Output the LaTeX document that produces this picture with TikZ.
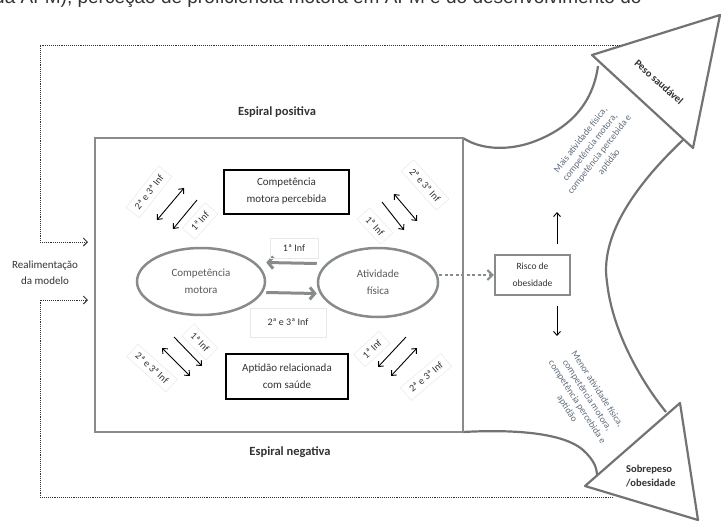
\documentclass[tikz,border=0pt]{standalone}
\usepackage{fontspec}
\setmainfont{Carlito}
\newfontfamily\topfont{Liberation Sans}
\usetikzlibrary{arrows.meta,calc,shapes.geometric}
\definecolor{gline}{RGB}{135,140,138}
\definecolor{bluegrey}{RGB}{95,108,122}
\definecolor{txt}{RGB}{50,50,50}
\begin{document}
\begin{tikzpicture}[x=1pt,y=-1pt,
  frame/.style={draw=gline, line width=2.6pt},
  blackbox/.style={draw=black, line width=2pt, minimum width=125pt, minimum height=44pt, align=center, text=txt, font=\fontsize{11}{17}\selectfont},
  ell/.style={ellipse, draw=gline, line width=2.5pt, align=center, text=black!65, font=\fontsize{11}{17}\selectfont, inner sep=0pt},
  garrow/.style={draw=gline, line width=3pt, -{Straight Barb[length=5pt,width=12pt]}},
  barrow/.style={draw=black, line width=0.9pt, -{Straight Barb[length=4pt,width=7pt]}},
  bbarrow/.style={draw=black, line width=0.9pt, {Straight Barb[length=4pt,width=7pt]}-{Straight Barb[length=4pt,width=7pt]}},
  fbhead/.style={draw=black!80, line width=0.9pt, densely dotted, -{Straight Barb[length=4pt,width=8pt,line width=1pt,sep=0pt]}},
  lab/.style={draw=black!9, line width=0.5pt, text=txt, font=\fontsize{10}{12}\selectfont, inner xsep=6pt, inner ysep=5pt},
  biglab/.style={text=txt, font=\bfseries\fontsize{12.5}{15}\selectfont},
  shapeline/.style={draw=black!55, line width=2.2pt, line join=round},
  bandtext/.style={align=center, text=bluegrey, font=\fontsize{9.5}{12}\selectfont}
]
\useasboundingbox (0,0) rectangle (721,520);

% cut-off text line at the top
\node[anchor=base west, inner sep=0pt, text=black!80, font=\topfont\fontsize{19}{20}\selectfont] (toptext) at (-6,3) {da AFM), perceção de proficiência motora em AFM e do desenvolvimento do};

% big right-hand arrows
\coordinate (ua1) at (592,55);
\coordinate (utip) at (720,15);
\coordinate (ua2) at (693,148);
\coordinate (la1) at (680,403);
\coordinate (ltip) at (698,520);
\coordinate (la2) at (585,486);
\coordinate (rtc) at (463,138);
\coordinate (rbc) at (463,432);
\draw[shapeline] (rtc) .. controls (480,149) and (505,151) .. (530,143)
   .. controls (562,132) and (592,110) .. (598,66);
\draw[shapeline, fill=white] (ua1) -- (utip) -- (ua2) -- cycle;
\draw[shapeline] (684,139) .. controls (632,188) and (600,238) .. (607,282)
   .. controls (612,330) and (640,380) .. (666,412);
\draw[shapeline] (rbc) .. controls (500,430) and (560,430) .. (583,450)
   .. controls (594,460) and (597,468) .. (597,476);
\draw[shapeline, fill=white] (la1) -- (ltip) -- (la2) -- cycle;

\node[rotate=-42, text=txt, font=\bfseries\fontsize{10.5}{12}\selectfont] (peso) at (659,82) {Peso saudável};
\node[align=left, anchor=north west, inner sep=0pt, text=txt, font=\bfseries\fontsize{10.5}{14}\selectfont] (sobre) at (626,465) {Sobrepeso\\/obesidade};
\node[bandtext, rotate=52] (mais) at (595,151) {Mais atividade física,\\competência motora,\\competência percebida e\\aptidão};
\node[bandtext, rotate=-57] (menor) at (582,399) {Menor atividade física,\\competência motora,\\competência percebida e\\aptidão};

% inner frame
\node[frame, minimum width=368pt, minimum height=294pt, inner sep=0pt] (model) at (279,285) {};
\node[biglab] (pos) at (277,112) {Espiral positiva};
\node[biglab] (neg) at (290,452) {Espiral negativa};

% black boxes
\node[blackbox] (cmp) at (286.5,191.5) {Competência\\motora percebida};
\node[blackbox, minimum width=122pt, minimum height=45pt] (apt) at (287,376.5) {Aptidão relacionada\\com saúde};

% ellipses
\node[ell, minimum width=128pt, minimum height=67pt] (cm) at (201,281.5) {Competência\\motora};
\node[ell, minimum width=120pt, minimum height=69pt] (af) at (378,282.5) {Atividade\\física};

% arrows between ellipses
\draw[garrow] ([yshift=19pt]af.west) -- ([yshift=19pt]cm.east);
\draw[garrow] ([yshift=-11pt]cm.east) -- ([yshift=-11pt]af.west);
\node[lab, minimum width=48pt, minimum height=20pt] (l1) at (294,248) {1ª Inf};
\node[lab, minimum width=76pt, minimum height=29pt] (l23) at (288,322.5) {2ª e 3ª Inf};

% risk box
\node[draw=gline, line width=2.4pt, minimum width=75pt, minimum height=40pt, align=center, text=txt, font=\fontsize{9.5}{17}\selectfont] (risk) at (532.5,275) {Risco de\\obesidade};
\draw[draw=gline, line width=2.4pt, dash pattern=on 3pt off 2.5pt, -{Straight Barb[length=5pt,width=10pt,line width=2pt]}] (af.east |- risk.west) -- (risk.west);
\coordinate (up0) at (557,244);
\coordinate (up1) at (557,212);
\coordinate (dn0) at (557,306);
\coordinate (dn1) at (557,336);
\draw[barrow] (up0) -- (up1);
\draw[barrow] (dn0) -- (dn1);

% feedback loop
\coordinate (fbtop) at (620,45);
\coordinate (fbbot) at (613,497);
\coordinate (fbin1) at (88,242);
\coordinate (fbin2) at (88,300);
\draw[fbhead] (fbtop) -- (40,45) -- (40,242) -- (fbin1);
\draw[fbhead] (fbbot) -- (40,497) -- (40,300) -- (fbin2);
\node[align=center, text=txt, font=\fontsize{11}{16}\selectfont] (real) at (45,273) {Realimentação\\da modelo};

% diagonal arrow pairs with labels
% upper left
\coordinate (a1) at (157,220); \coordinate (a2) at (184,188);
\coordinate (a3) at (197,200); \coordinate (a4) at (173,229);
\draw[bbarrow] (a1) -- (a2);
\draw[barrow] (a3) -- (a4);
\node[lab, rotate=52] (ul23) at (149,192) {2ª e 3ª Inf};
\node[lab, rotate=48] (ul1) at (200,221) {1ª Inf};
% upper right
\coordinate (b1) at (394,194); \coordinate (b2) at (417,221);
\coordinate (b3) at (382,202); \coordinate (b4) at (404,230);
\draw[bbarrow] (b1) -- (b2);
\draw[barrow] (b3) -- (b4);
\node[lab, rotate=-48] (ur23) at (425,185) {2ª e 3ª Inf};
\node[lab, rotate=-47] (ur1) at (375,226) {1ª Inf};
% lower left
\coordinate (c1) at (162,348); \coordinate (c2) at (190,376);
\coordinate (c3) at (174,337); \coordinate (c4) at (202,366);
\draw[bbarrow] (c1) -- (c2);
\draw[barrow] (c3) -- (c4);
\node[lab, rotate=-45] (ll1) at (200,342) {1ª Inf};
\node[lab, rotate=-42] (ll23) at (152,368) {2ª e 3ª Inf};
% lower right
\coordinate (d1) at (406,337); \coordinate (d2) at (378,367);
\coordinate (d3) at (417,348); \coordinate (d4) at (391,376);
\draw[barrow] (d1) -- (d2);
\draw[bbarrow] (d3) -- (d4);
\node[lab, rotate=43] (lr1) at (372,349) {1ª Inf};
\node[lab, rotate=40] (lr23) at (426,377) {2ª e 3ª Inf};
\end{tikzpicture}
\end{document}
